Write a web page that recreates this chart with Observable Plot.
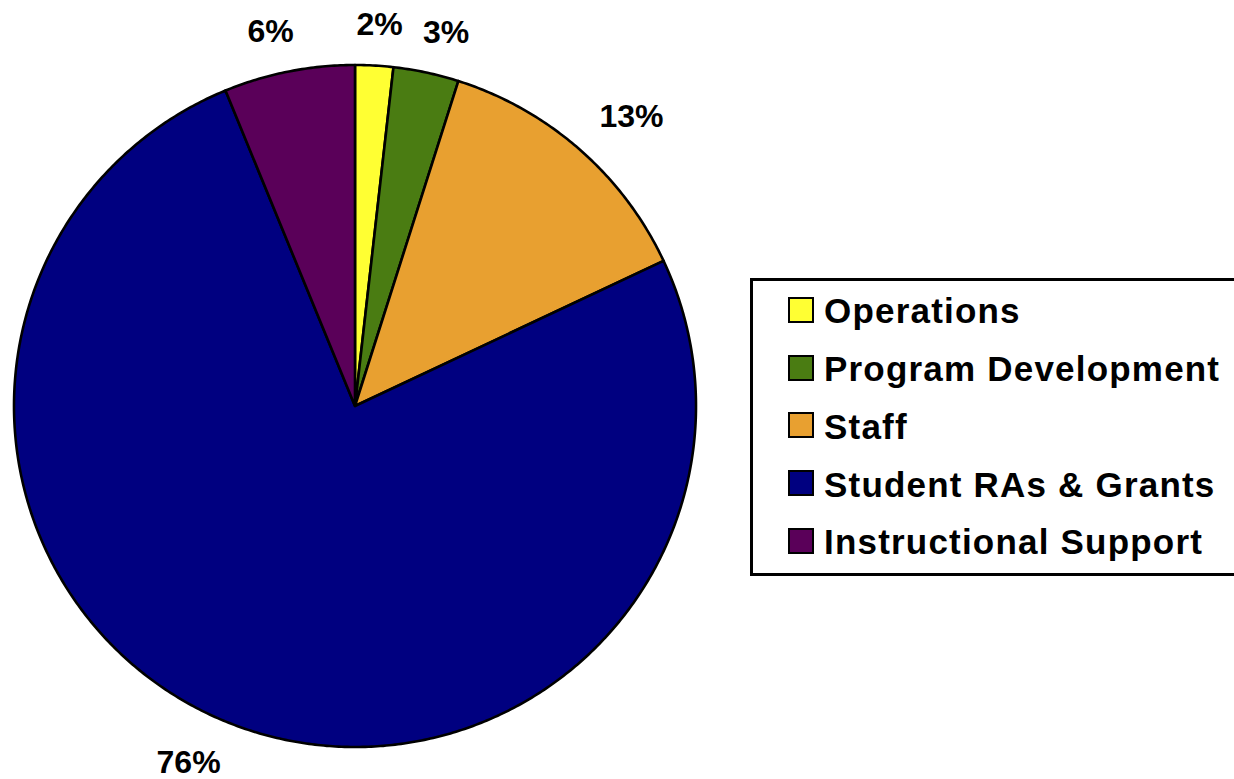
<!DOCTYPE html>
<html>
<head>
<meta charset="utf-8">
<script src="https://cdn.jsdelivr.net/npm/d3@7"></script>
<script src="https://cdn.jsdelivr.net/npm/@observablehq/plot@0.6"></script>
<style>
  html, body { margin: 0; padding: 0; background: #fff; overflow: hidden; }
  #wrap { position: relative; width: 1234px; height: 779px; }
  #chart svg { display: block; }
  #legend {
    position: absolute; left: 750px; top: 278px; width: 500px; height: 292px;
    border: 3px solid #000; background: #fff;
    font-family: "Liberation Sans", Arial, sans-serif; font-weight: bold;
  }
  .row { position: absolute; left: 35px; height: 26px; }
  .sw { position: absolute; left: 0; top: 0; width: 26px; height: 26px; box-sizing: border-box; border: 2px solid #000; }
  .lbl { position: absolute; left: 36px; top: -3.6px; font-size: 35px; line-height: 35px; letter-spacing: 1.2px; white-space: nowrap; color: #000; }
</style>
</head>
<body>
<div id="wrap">
  <div id="chart"></div>
  <div id="legend"></div>
</div>
<script>
const categories = ["Operations", "Program Development", "Staff", "Student RAs & Grants", "Instructional Support"];
const values = [1.8, 3.1, 13.1, 75.8, 6.2];
const pctLabels = ["2%", "3%", "13%", "76%", "6%"];
const colors = ["#FFFF33", "#4A7C12", "#E8A030", "#000080", "#5A0059"];

const W = 1234, H = 779;
const cx = 354.5, cy = 405.5, R = 341;

const total = d3.sum(values);
let cum = 0;
const slices = values.map((v, i) => {
  const a0 = cum / total * 2 * Math.PI;
  cum += v;
  const a1 = cum / total * 2 * Math.PI;
  return {cat: categories[i], label: pctLabels[i], a0, a1};
});

// polygon points for each slice (angle clockwise from 12 o'clock)
const pts = [];
for (const s of slices) {
  pts.push({cat: s.cat, x: cx, y: cy});
  const n = Math.max(2, Math.ceil((s.a1 - s.a0) / (Math.PI / 360)));
  for (let k = 0; k <= n; k++) {
    const a = s.a0 + (s.a1 - s.a0) * k / n;
    pts.push({cat: s.cat, x: cx + R * Math.sin(a), y: cy - R * Math.cos(a)});
  }
}

// label placement (outside end, Excel-like)
const ctx = document.createElement("canvas").getContext("2d");
ctx.font = "bold 32px 'Liberation Sans'";
const clamp = v => Math.max(0, Math.min(1, v));
const gap = 30, capH = 23, fs = 32;
const labelData = slices.map(s => {
  const m = (s.a0 + s.a1) / 2;
  const sn = Math.sin(m), cs = Math.cos(m);
  const px = cx + (R + gap) * sn, py = cy - (R + gap) * cs;
  const w = ctx.measureText(s.label).width;
  const fx = clamp(0.5 - 1.4 * sn), fy = clamp(0.5 + 1.4 * cs);
  let y = py + (0.5 - fy) * capH;
  // keep the text box (incl. descent) inside the picture
  y = Math.min(y, H - fs * (0.32 + 0.22));
  return {text: s.label, x: px + (0.5 - fx) * w, y};
});

const chart = Plot.plot({
  width: W, height: H,
  margin: 0,
  x: {domain: [0, W], range: [0, W], axis: null},
  y: {domain: [0, H], range: [0, H], axis: null},
  color: {domain: categories, range: colors},
  marks: [
    Plot.line(pts, {x: "x", y: "y", z: "cat", fill: "cat", stroke: "#000", strokeWidth: 2.6, curve: "linear-closed", strokeLinejoin: "round"}),
    Plot.text(labelData, {x: "x", y: "y", text: "text", fontSize: fs, fontWeight: "bold", fontFamily: "Liberation Sans, Arial, sans-serif", fill: "#000", textAnchor: "middle", lineAnchor: "middle", dy: 1})
  ]
});
document.getElementById("chart").appendChild(chart);

const legend = document.getElementById("legend");
categories.forEach((c, i) => {
  const row = document.createElement("div");
  row.className = "row";
  row.style.top = (16 + i * 57.7) + "px";
  const sw = document.createElement("div");
  sw.className = "sw";
  sw.style.background = colors[i];
  const lb = document.createElement("div");
  lb.className = "lbl";
  lb.textContent = c;
  row.appendChild(sw); row.appendChild(lb);
  legend.appendChild(row);
});
</script>
</body>
</html>
